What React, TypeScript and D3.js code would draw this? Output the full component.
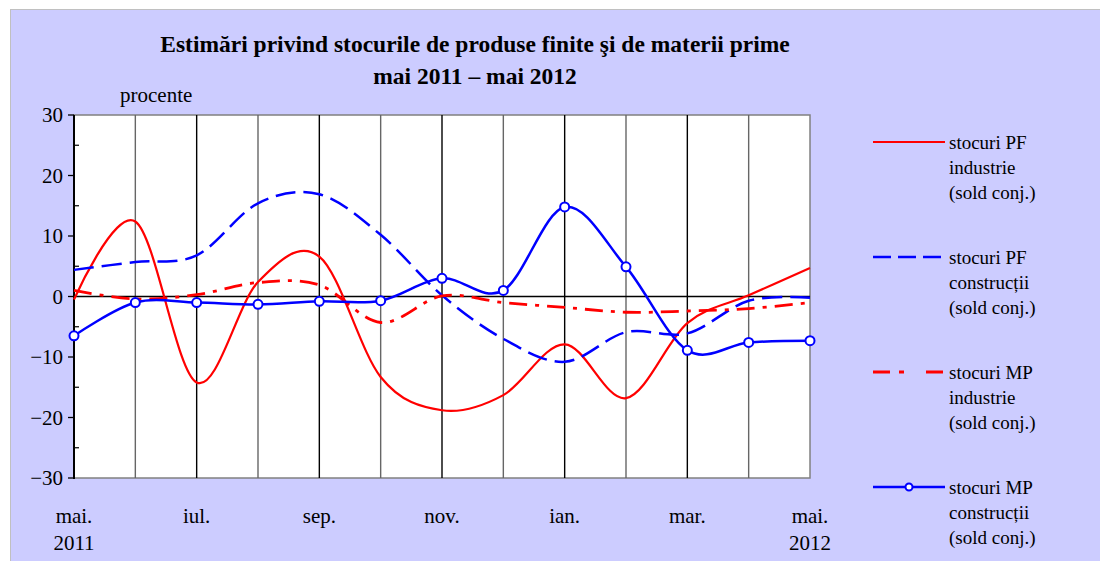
import React from 'react';
import * as d3 from 'd3';

// luni mai 2011 - mai 2012
const months = ['mai.', 'iun.', 'iul.', 'aug.', 'sep.', 'oct.', 'nov.', 'dec.', 'ian.', 'feb.', 'mar.', 'apr.', 'mai.'];
const years = ['2011', '', '', '', '', '', '', '', '', '', '', '', '2012'];

const pfIndustrie = [-0.5, 12.4, -14.2, 2.4, 6.6, -13.3, -18.8, -16.3, -7.9, -16.8, -4.4, 0.2, 4.7];
const pfConstructii = [4.4, 5.7, 6.8, 15.4, 16.9, 10.2, 0.2, -7.0, -10.8, -5.9, -6.1, -0.7, -0.2];
const mpIndustrie = [1.0, -0.4, 0.3, 2.3, 1.9, -4.3, 0.1, -1.0, -1.8, -2.6, -2.4, -2.0, -1.0];
const mpConstructii = [-6.5, -1.0, -1.0, -1.3, -0.8, -0.7, 3.0, 1.0, 14.8, 4.9, -8.9, -7.6, -7.3];

const majorTicks = [-30, -20, -10, 0, 10, 20, 30];
const minorTicks = [-25, -15, -5, 5, 15, 25];

const series = [
  { name: ['stocuri PF', 'industrie', '(sold conj.)'], values: pfIndustrie, color: '#ff0000', width: 2.2, dash: null, legendDash: null, marker: false },
  { name: ['stocuri PF', 'construcții', '(sold conj.)'], values: pfConstructii, color: '#0000ff', width: 2.5, dash: '20,8', legendDash: '18,7', marker: false },
  { name: ['stocuri MP', 'industrie', '(sold conj.)'], values: mpIndustrie, color: '#ff0000', width: 2.8, dash: '18,8,4,8', legendDash: '17,9,5,22', marker: false },
  { name: ['stocuri MP', 'construcții', '(sold conj.)'], values: mpConstructii, color: '#0000ff', width: 2.5, dash: null, legendDash: null, marker: true },
];

const W = 1100;
const H = 561;
const font = '"Liberation Serif", "Times New Roman", serif';

export default function App() {
  const x = d3.scaleLinear().domain([0, months.length - 1]).range([74, 810]);
  const y = d3.scaleLinear().domain([-30, 30]).range([478, 115]);
  const line = d3.line<number>()
    .x((_, i) => x(i))
    .y(d => y(d))
    .curve(d3.curveCardinal.tension(0));
  const fmt = d3.format('d');
  const [x0, x1] = x.range();
  const [y0, y1] = y.range();

  return (
    <svg width={W} height={H} style={{ position: 'absolute', left: 0, top: 0 }} fontFamily={font}>
      <rect x={0} y={0} width={W} height={H} fill='#ffffff' />
      <rect x={10} y={9} width={W - 10} height={H - 9} fill='#c0c0c0' />
      <rect x={11} y={10} width={W - 11} height={H - 10} fill='#ccccff' />

      <text x={475} y={52} textAnchor='middle' fontSize={23.5} fontWeight='bold'>
        Estimări privind stocurile de produse finite şi de materii prime
      </text>
      <text x={475} y={84} textAnchor='middle' fontSize={23.5} fontWeight='bold'>
        mai 2011 – mai 2012
      </text>
      <text x={120} y={102} fontSize={21}>procente</text>

      <rect x={x0} y={y1} width={x1 - x0} height={y0 - y1} fill='#ffffff' stroke='#808080' strokeWidth={1.5} />

      {months.map((m, i) => (i > 0 && i < months.length - 1 ? (
        <line key={'g' + i} x1={x(i)} x2={x(i)} y1={y1} y2={y0} stroke={i % 2 ? '#666' : '#000'} strokeWidth={1.4} />
      ) : null))}
      <line x1={x0} x2={x1} y1={y(0)} y2={y(0)} stroke='#000' strokeWidth={1.3} />

      <line x1={x0} x2={x0} y1={y1} y2={y0 + 1} stroke='#000' strokeWidth={2} />
      {majorTicks.map(t => (
        <g key={'t' + t}>
          <line x1={x0 - 6} x2={x0} y1={y(t)} y2={y(t)} stroke='#000' strokeWidth={1.3} />
          <text x={63} y={y(t)} dy='0.35em' textAnchor='end' fontSize={21}>{fmt(t)}</text>
        </g>
      ))}
      {minorTicks.map(t => (
        <line key={'m' + t} x1={x0} x2={x0 + 5} y1={y(t)} y2={y(t)} stroke='#000' strokeWidth={1.2} />
      ))}

      {months.map((m, i) => (i % 2 === 0 ? (
        <text key={'x' + i} x={x(i)} y={523} textAnchor='middle' fontSize={21}>{m}</text>
      ) : null))}
      {years.map((yr, i) => (yr ? (
        <text key={'y' + i} x={x(i)} y={550} textAnchor='middle' fontSize={21}>{yr}</text>
      ) : null))}

      {series.map((s, k) => (
        <path key={'s' + k} d={line(s.values) || ''} fill='none' stroke={s.color}
          strokeWidth={s.width} strokeDasharray={s.dash || undefined} />
      ))}
      {series.filter(s => s.marker).map((s, k) => s.values.map((v, i) => (
        <circle key={'c' + k + '-' + i} cx={x(i)} cy={y(v)} r={4.5} fill='#fff' stroke={s.color} strokeWidth={2} />
      )))}

      {series.map((s, k) => {
        const ly = 142 + k * 115;
        return (
          <g key={'l' + k}>
            <line x1={873} x2={945} y1={ly} y2={ly} stroke={s.color} strokeWidth={s.width}
              strokeDasharray={s.legendDash || undefined} />
            {s.marker ? <circle cx={909} cy={ly} r={3.5} fill='#fff' stroke={s.color} strokeWidth={2} /> : null}
            {s.name.map((t, j) => (
              <text key={j} x={949} y={ly + j * 25} dy='0.35em' fontSize={19}>{t}</text>
            ))}
          </g>
        );
      })}
    </svg>
  );
}
